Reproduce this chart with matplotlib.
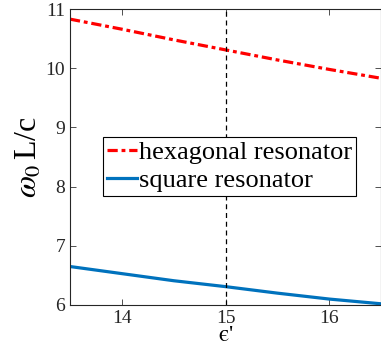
import numpy as np
import matplotlib
matplotlib.use("Agg")
import matplotlib.pyplot as plt

plt.rcParams['font.family'] = ['Liberation Serif', 'DejaVu Serif']
plt.rcParams['mathtext.fontset'] = 'stix'

eps = [13.5, 14.0, 14.5, 15.0, 15.5, 16.0, 16.5]
hexagonal = [10.83, 10.66, 10.48, 10.31, 10.14, 9.98, 9.83]
square = [6.65, 6.53, 6.41, 6.31, 6.20, 6.10, 6.02]
xticks = [14, 15, 16]
yticks = [6, 7, 8, 9, 10, 11]
xticklabels = ['14', '15', '16']
yticklabels = ['6', '7', '8', '9', '10', '11']

fig = plt.figure(figsize=(3.81, 3.6), dpi=100)
ax = fig.add_axes([0.1837, 0.1528, 0.817, 0.822])

ax.plot(eps, hexagonal, color='red', linestyle='-.', linewidth=2.3,
        dashes=(3.2, 1.2, 1.2, 1.2), label='hexagonal resonator')
ax.plot(eps, square, color=(0, 0.447, 0.741), linewidth=2.3, label='square resonator')
ax.axvline(15, color='black', linestyle='--', linewidth=0.9, dashes=(4, 3))

ax.set_xlim(13.5, 16.5)
ax.set_ylim(6, 11)
ax.set_xticks(xticks)
ax.set_xticklabels(xticklabels, fontfamily='Liberation Serif', fontsize=14)
ax.set_yticks(yticks)
ax.set_yticklabels(yticklabels, fontfamily='Liberation Serif', fontsize=14)
ax.tick_params(direction='in', top=True, right=True, length=4,
               color='#333333', labelcolor='#262626', width=0.6)
for s in ax.spines.values():
    s.set_color('#262626')
    s.set_linewidth(0.8)

ax.set_xlabel("$\\mathrm{\u03f5}$'", fontsize=17, labelpad=-1)
ax.set_ylabel(r"$\omega_0\,$L/c", fontsize=23, labelpad=1)

leg = ax.legend(loc='upper left', bbox_to_anchor=(0.106, 0.5676), fontsize=19,
                frameon=True, fancybox=False, edgecolor='black', framealpha=1,
                handlelength=1.15, handletextpad=0.05, borderpad=0.15, labelspacing=0.15,
                borderaxespad=0)
leg.get_frame().set_linewidth(0.8)

fig.savefig('out.png', dpi=100)
